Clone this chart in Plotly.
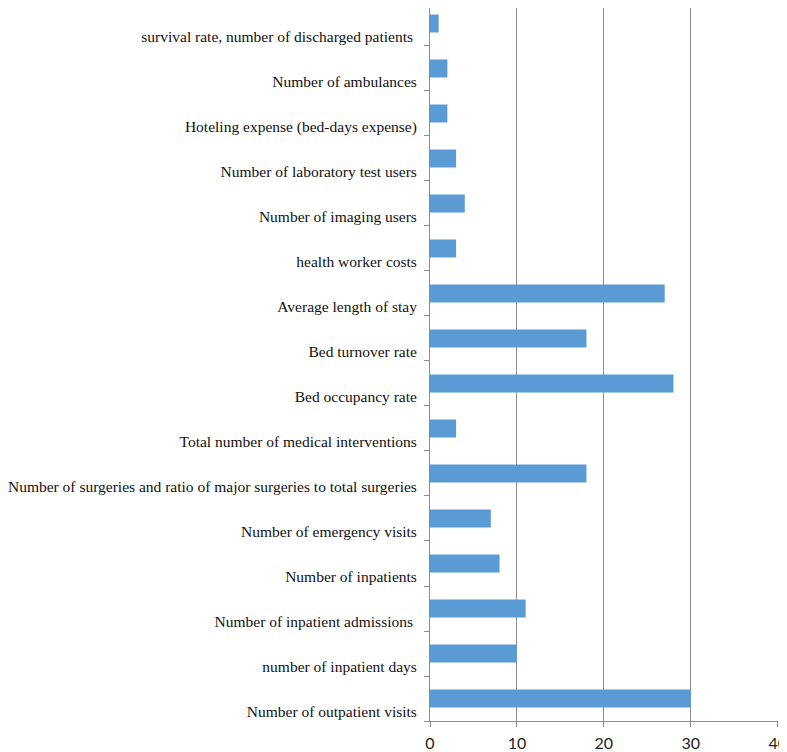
import plotly.graph_objects as go

# categories listed bottom to top
categories = [
    "Number of outpatient visits",
    "number of inpatient days",
    "Number of inpatient admissions\u00a0",
    "Number of inpatients",
    "Number of emergency visits",
    "Number of surgeries and ratio of major surgeries to total surgeries",
    "Total number of medical interventions",
    "Bed occupancy rate",
    "Bed turnover rate",
    "Average length of stay",
    "health worker costs",
    "Number of imaging users",
    "Number of laboratory test users",
    "Hoteling expense (bed-days expense)",
    "Number of ambulances",
    "survival rate, number of discharged patients\u00a0",
]
values = [30, 10, 11, 8, 7, 18, 3, 28, 18, 27, 3, 4, 3, 2, 2, 1]
x_ticks = [0, 10, 20, 30, 40]

fig = go.Figure(go.Bar(
    y=categories, x=values, orientation="h",
    marker=dict(color="#5B9BD5", line=dict(width=0)),
))

# page body adds an 8px offset, so the figure is sized to fit the window
fig.update_layout(
    width=779, height=744,
    margin=dict(l=422, r=9, t=0, b=31),
    plot_bgcolor="white", paper_bgcolor="white",
    bargap=0.6, showlegend=False,
)
fig.update_xaxes(
    range=[0, 40.03], tickvals=x_ticks, ticktext=[str(v) for v in x_ticks],
    showgrid=True, gridcolor="#8c8c8c", gridwidth=1,
    showline=True, linecolor="#8c8c8c", linewidth=1,
    ticks="outside", ticklen=5, tickcolor="#8c8c8c",
    tickfont=dict(family="Lato, Open Sans, sans-serif", size=16, color="#222"),
    ticklabeloverflow="allow", automargin=False, ticklabelstandoff=3,
    zeroline=False, fixedrange=True,
)
fig.update_yaxes(
    type="category", categoryorder="array", categoryarray=categories,
    range=[-0.5, 15.344],
    showgrid=False, showline=True, linecolor="#8c8c8c", linewidth=1,
    ticks="outside", ticklen=5, tickcolor="#8c8c8c", tickson="boundaries",
    tickfont=dict(family="Liberation Serif, Times New Roman, serif", size=15.5, color="#111"),
    ticklabelshift=13, ticklabelstandoff=9, automargin=False,
    zeroline=False, fixedrange=True,
)

fig.write_html("out.html")
